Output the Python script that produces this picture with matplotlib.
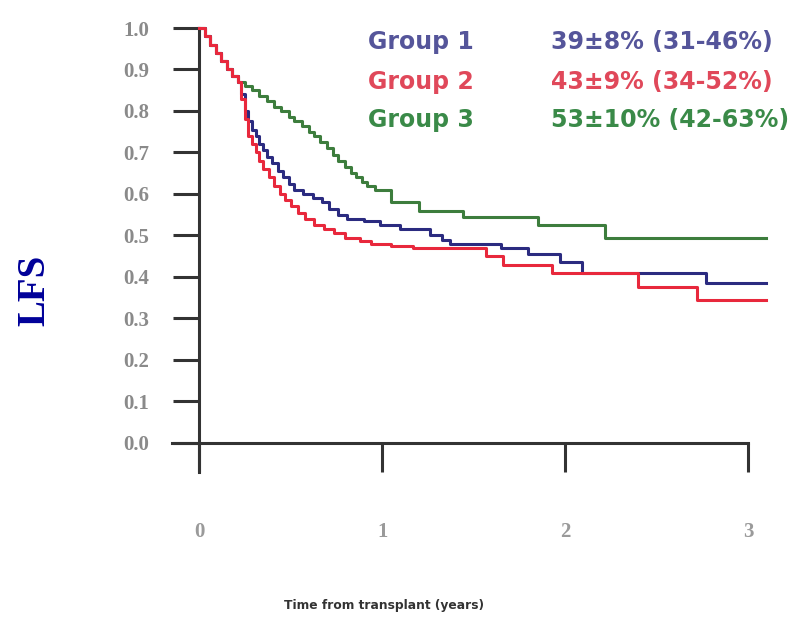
import matplotlib
matplotlib.use("Agg")
import matplotlib.pyplot as plt

# ---- data ----
t_end = 3.1

g1_t = [0, 0.03, 0.06, 0.09, 0.12, 0.15, 0.18, 0.21, 0.23, 0.25, 0.27, 0.29, 0.31,
        0.33, 0.35, 0.37, 0.40, 0.43, 0.46, 0.49, 0.52, 0.57, 0.62, 0.67, 0.71,
        0.76, 0.81, 0.90, 0.99, 1.10, 1.26, 1.33, 1.37, 1.65, 1.80, 1.97, 2.09, 2.77]
g1_s = [1.0, 0.98, 0.96, 0.94, 0.92, 0.90, 0.885, 0.87, 0.84, 0.80, 0.775, 0.755, 0.74,
        0.72, 0.705, 0.69, 0.675, 0.655, 0.64, 0.625, 0.61, 0.60, 0.59, 0.58, 0.565,
        0.55, 0.54, 0.535, 0.525, 0.515, 0.50, 0.49, 0.48, 0.47, 0.455, 0.435, 0.41, 0.385]

g2_t = [0, 0.03, 0.06, 0.09, 0.12, 0.15, 0.18, 0.21, 0.23, 0.25, 0.27, 0.29, 0.31,
        0.33, 0.35, 0.38, 0.41, 0.44, 0.47, 0.50, 0.54, 0.58, 0.63, 0.68, 0.74,
        0.80, 0.88, 0.94, 1.05, 1.17, 1.57, 1.66, 1.93, 2.40, 2.72]
g2_s = [1.0, 0.98, 0.96, 0.94, 0.92, 0.90, 0.885, 0.87, 0.83, 0.78, 0.74, 0.72, 0.70,
        0.68, 0.66, 0.64, 0.62, 0.60, 0.585, 0.57, 0.555, 0.54, 0.525, 0.515, 0.505,
        0.495, 0.487, 0.48, 0.475, 0.47, 0.45, 0.43, 0.41, 0.375, 0.345]

g3_t = [0, 0.03, 0.06, 0.09, 0.12, 0.15, 0.18, 0.21, 0.25, 0.29, 0.33, 0.37, 0.41,
        0.45, 0.49, 0.52, 0.56, 0.60, 0.63, 0.66, 0.70, 0.73, 0.76, 0.80, 0.83,
        0.86, 0.89, 0.92, 0.96, 1.05, 1.20, 1.44, 1.85, 2.22]
g3_s = [1.0, 0.98, 0.96, 0.94, 0.92, 0.90, 0.885, 0.87, 0.86, 0.85, 0.835, 0.825, 0.81,
        0.80, 0.785, 0.775, 0.765, 0.75, 0.74, 0.725, 0.71, 0.695, 0.68, 0.665, 0.65,
        0.64, 0.63, 0.62, 0.61, 0.58, 0.56, 0.545, 0.525, 0.495]

group_names = ["Group 1", "Group 2", "Group 3"]
group_stats = ["39±8% (31-46%)", "43±9% (34-52%)", "53±10% (42-63%)"]
curve_colors = ["#2b2b80", "#e8283c", "#3d7d3d"]
text_colors = ["#55559a", "#e0485a", "#3a8a48"]

y_ticks = [0.0, 0.1, 0.2, 0.3, 0.4, 0.5, 0.6, 0.7, 0.8, 0.9, 1.0]
y_ticklabels = ["0.0", "0.1", "0.2", "0.3", "0.4", "0.5", "0.6", "0.7", "0.8", "0.9", "1.0"]
x_ticks = [0, 1, 2, 3]
x_ticklabels = ["0", "1", "2", "3"]

# ---- figure ----
W, H = 789, 629
fig = plt.figure(figsize=(W / 100, H / 100), dpi=100)
ax = fig.add_axes([172 / W, (H - 472) / H, 598 / W, 444 / H])
ax.set_xlim(-0.148, 3.12)
ax.set_ylim(-0.07, 1.0)

for t, s, c in [(g3_t, g3_s, curve_colors[2]), (g1_t, g1_s, curve_colors[0]),
                (g2_t, g2_s, curve_colors[1])]:
    ax.step(list(t) + [t_end], list(s) + [s[-1]], where="post", color=c,
            lw=2.2, clip_on=False, zorder=3)

for side in ["top", "right"]:
    ax.spines[side].set_visible(False)
ax.spines["left"].set_position(("data", 0))
ax.spines["bottom"].set_position(("data", 0))
ax.spines["bottom"].set_bounds(-0.148, 3.0)
for side in ["left", "bottom"]:
    ax.spines[side].set_linewidth(2.2)
    ax.spines[side].set_color("#333333")

ax.set_yticks(y_ticks)
ax.set_yticklabels(y_ticklabels, family="Liberation Serif", fontweight="bold",
                   fontsize=15, color="#8a8a8a")
ax.set_xticks(x_ticks)
ax.set_xticklabels(x_ticklabels, family="Liberation Serif", fontweight="bold",
                   fontsize=15, color="#9a9a9a")
ax.tick_params(axis="y", direction="out", length=19, width=2.2, color="#333333", pad=17)
ax.tick_params(axis="x", direction="out", length=21, width=2.2, color="#333333", pad=36)

# legend-like annotations
rows_y = [42, 82, 120]
for name, stat, col, yy in zip(group_names, group_stats, text_colors, rows_y):
    fig.text(368 / W, 1 - yy / H, name, color=col, fontsize=17, fontweight="bold",
             family="DejaVu Sans", ha="left", va="center")
    fig.text(551 / W, 1 - yy / H, stat, color=col, fontsize=17, fontweight="bold",
             family="DejaVu Sans", ha="left", va="center")

fig.text(35 / W, 1 - 290 / H, "LFS", rotation=90, fontsize=28, fontweight="bold",
         family="Liberation Serif", color="#000099", ha="center", va="center")
fig.text(384 / W, 1 - 606 / H, "Time from transplant (years)", fontsize=8.8,
         fontweight="bold", family="DejaVu Sans", color="#333333",
         ha="center", va="center")

fig.savefig("out.png", dpi=100)
